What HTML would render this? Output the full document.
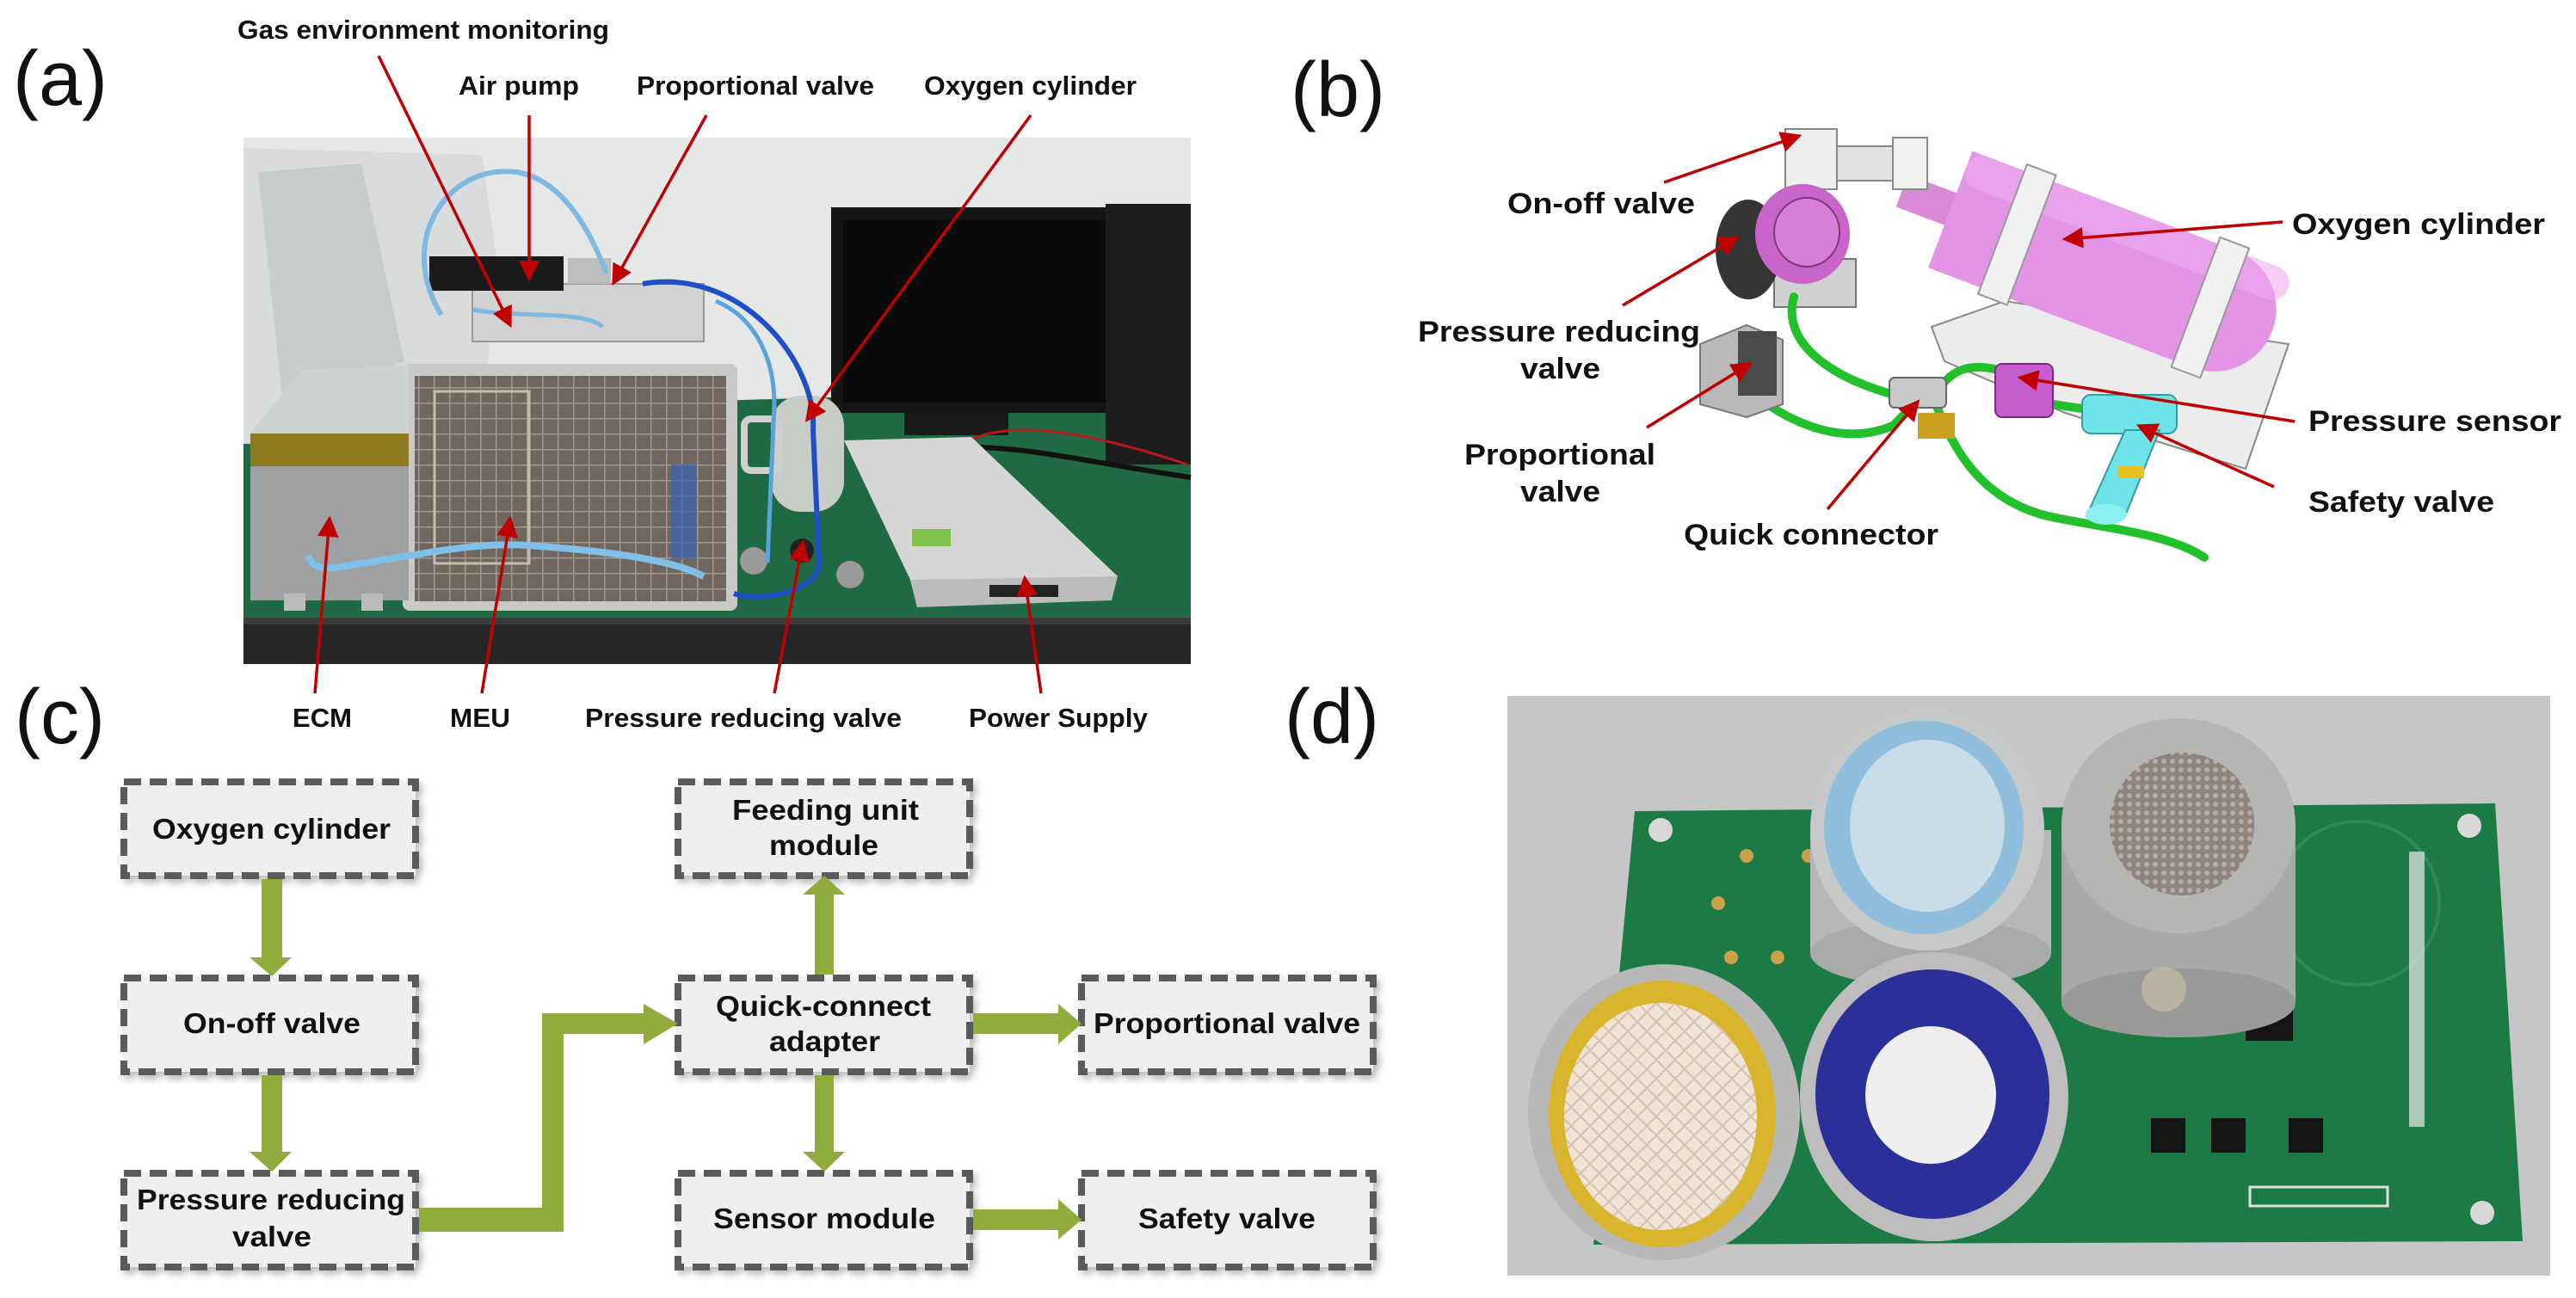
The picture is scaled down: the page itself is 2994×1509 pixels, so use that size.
<!DOCTYPE html>
<html><head><meta charset="utf-8"><style>
html,body{margin:0;padding:0;background:#fff;}
svg{display:block;}
.lb{font-family:"Liberation Sans",sans-serif;font-weight:bold;fill:#111;}
.pl{font-family:"Liberation Sans",sans-serif;font-size:90px;fill:#111;}
.bx{fill:#efefef;stroke:#5a5a5a;stroke-width:8;stroke-dasharray:20 10;}
.g{fill:#8fac3d;}
.ra{stroke:#c00000;stroke-width:3.5;fill:none;}
</style></head><body>
<svg width="2994" height="1509" viewBox="0 0 2994 1509" xmlns="http://www.w3.org/2000/svg">
<defs>
<marker id="ah" markerWidth="8" markerHeight="8" refX="6" refY="4" orient="auto" markerUnits="strokeWidth">
<path d="M0,0.5 L7,4 L0,7.5 Z" fill="#c00000"/></marker>
<filter id="sh" x="-10%" y="-10%" width="130%" height="130%"><feDropShadow dx="4" dy="5" stdDeviation="4" flood-color="#000" flood-opacity="0.25"/></filter>
<pattern id="grid" width="18" height="18" patternUnits="userSpaceOnUse"><path d="M0 0H18M0 0V18" stroke="#b9aea2" stroke-width="3" fill="none"/></pattern>
<pattern id="mesh" width="10" height="10" patternUnits="userSpaceOnUse"><rect width="10" height="10" fill="#8d847e"/><circle cx="5" cy="5" r="3" fill="#b5aca6"/></pattern>
<pattern id="ymesh" width="22" height="22" patternUnits="userSpaceOnUse"><rect width="22" height="22" fill="#efe3d6"/><path d="M0 11L11 0L22 11L11 22Z" stroke="#d4c2ad" stroke-width="2" fill="none"/></pattern>
</defs>

<!-- Panel labels -->
<text class="pl" x="15" y="122">(a)</text>
<text class="pl" x="1500" y="135">(b)</text>
<text class="pl" x="17" y="864">(c)</text>
<text class="pl" x="1493" y="864">(d)</text>

<!-- ================= Panel (a) photo ================= -->
<rect x="283" y="160" width="1101" height="612" fill="#e6e8e8"/>
<polygon points="283,508 700,470 1384,449 1384,720 283,720" fill="#1f6a45"/>
<rect x="283" y="718" width="1101" height="54" fill="#262626"/>
<rect x="283" y="718" width="1101" height="8" fill="#3c3c3c"/>
<!-- bag -->
<path d="M283,172 L560,180 L577,300 L560,516 L283,516 Z" fill="#d9dbdc"/>
<path d="M300,200 L420,190 L470,420 L330,480 Z" fill="#c9cccd"/>
<!-- monitor -->
<rect x="966" y="241" width="411" height="239" fill="#141414"/>
<rect x="980" y="256" width="385" height="212" fill="#0a0a0a"/>
<rect x="1051" y="480" width="121" height="26" fill="#1a1a1a"/>
<rect x="1285" y="237" width="99" height="303" fill="#1d1d1d"/>
<path d="M1130,510 C1180,490 1260,500 1380,540" stroke="#b51a1a" stroke-width="3" fill="none"/>
<path d="M1130,520 C1200,520 1280,540 1384,555" stroke="#111" stroke-width="6" fill="none"/>
<!-- cage -->
<rect x="468" y="423" width="389" height="287" rx="8" fill="#c9c9c7"/>
<rect x="482" y="437" width="362" height="262" fill="#6f675f"/>
<rect x="482" y="437" width="362" height="262" fill="url(#grid)" opacity="0.7"/>
<rect x="505" y="455" width="110" height="200" fill="none" stroke="#c8bcb0" stroke-width="3"/>
<rect x="780" y="540" width="30" height="110" fill="#3a61b8" opacity="0.7"/>
<!-- top module -->
<rect x="549" y="330" width="269" height="67" fill="#d2d2d2" stroke="#9a9a9a" stroke-width="2"/>
<rect x="499" y="298" width="156" height="40" fill="#1a1a1a"/>
<rect x="660" y="300" width="50" height="30" fill="#bdbdbd"/>
<!-- ECM -->
<polygon points="291,504 350,430 475,425 475,504" fill="#cfd2d3"/>
<rect x="291" y="504" width="184" height="194" fill="#9ea0a1"/>
<rect x="291" y="504" width="184" height="38" fill="#8d7a1e"/>
<rect x="330" y="690" width="25" height="20" fill="#bbb"/><rect x="420" y="690" width="25" height="20" fill="#bbb"/>
<!-- cylinder -->
<rect x="896" y="460" width="85" height="135" rx="35" fill="#c8ccc6"/>
<rect x="865" y="487" width="40" height="60" rx="8" fill="none" stroke="#cfcfcf" stroke-width="8"/>
<circle cx="932" cy="640" r="14" fill="#222"/>
<circle cx="876" cy="652" r="16" fill="#9a9a9a"/><circle cx="988" cy="668" r="16" fill="#9a9a9a"/>
<!-- power supply -->
<polygon points="981,512 1129,508 1299,670 1066,706 1058,674" fill="#d6d6d6"/>
<polygon points="1058,674 1299,670 1292,698 1066,706" fill="#bcbcbc"/>
<rect x="1150" y="680" width="80" height="14" fill="#222"/>
<rect x="1060" y="615" width="45" height="20" fill="#7fc24a"/>
<!-- tubes -->
<path d="M513,366 C460,280 520,190 600,200 C660,210 690,280 705,318" stroke="#7fb8e0" stroke-width="6" fill="none"/>
<path d="M550,360 C600,370 680,360 700,380" stroke="#7fb8e0" stroke-width="5" fill="none"/>
<path d="M358,646 C365,665 380,662 420,655 C500,642 560,630 613,634 C700,640 780,650 818,670" stroke="#80c0e8" stroke-width="8" fill="none"/>
<path d="M747,330 C860,310 950,420 945,500 L952,654 C950,690 880,700 853,690" stroke="#1f4fc4" stroke-width="6" fill="none"/>
<path d="M832,350 C880,370 900,420 900,470 L892,654" stroke="#5aa4dc" stroke-width="5" fill="none"/>

<!-- (a) labels -->
<text class="lb" x="276" y="45" font-size="31" textLength="432" lengthAdjust="spacingAndGlyphs">Gas environment monitoring</text>
<text class="lb" x="533" y="110" font-size="31" textLength="140" lengthAdjust="spacingAndGlyphs">Air pump</text>
<text class="lb" x="740" y="110" font-size="31" textLength="276" lengthAdjust="spacingAndGlyphs">Proportional valve</text>
<text class="lb" x="1074" y="110" font-size="31" textLength="247" lengthAdjust="spacingAndGlyphs">Oxygen cylinder</text>
<text class="lb" x="340" y="845" font-size="31" textLength="69" lengthAdjust="spacingAndGlyphs">ECM</text>
<text class="lb" x="523" y="845" font-size="31" textLength="70" lengthAdjust="spacingAndGlyphs">MEU</text>
<text class="lb" x="680" y="845" font-size="31" textLength="368" lengthAdjust="spacingAndGlyphs">Pressure reducing valve</text>
<text class="lb" x="1126" y="845" font-size="31" textLength="208" lengthAdjust="spacingAndGlyphs">Power Supply</text>
<!-- (a) arrows -->
<line class="ra" x1="440" y1="65" x2="593" y2="378" marker-end="url(#ah)"/>
<line class="ra" x1="615" y1="134" x2="615" y2="324" marker-end="url(#ah)"/>
<line class="ra" x1="821" y1="134" x2="713" y2="329" marker-end="url(#ah)"/>
<line class="ra" x1="1198" y1="134" x2="938" y2="488" marker-end="url(#ah)"/>
<line class="ra" x1="366" y1="806" x2="383" y2="603" marker-end="url(#ah)"/>
<line class="ra" x1="560" y1="806" x2="593" y2="603" marker-end="url(#ah)"/>
<line class="ra" x1="900" y1="806" x2="933" y2="631" marker-end="url(#ah)"/>
<line class="ra" x1="1210" y1="806" x2="1191" y2="672" marker-end="url(#ah)"/>

<!-- ================= Panel (b) ================= -->
<polygon points="2245,380 2330,350 2660,400 2610,545 2400,480 2260,420" fill="#ececec" stroke="#8a8a8a" stroke-width="2"/>
<!-- cylinder -->
<g transform="rotate(20.7 2450 310)">
<rect x="2195" y="292" width="80" height="40" fill="#d88ad8"/>
<rect x="2255" y="240" width="400" height="145" rx="72" fill="#e394e6"/>
<rect x="2255" y="240" width="330" height="145" fill="#e394e6"/>
<rect x="2255" y="240" width="400" height="40" rx="20" fill="#eeaaf0" opacity="0.6"/>
<rect x="2320" y="232" width="36" height="161" fill="#f1f1f1" stroke="#999" stroke-width="2"/>
<rect x="2560" y="232" width="36" height="161" fill="#f1f1f1" stroke="#999" stroke-width="2"/>
</g>
<!-- on-off valve -->
<rect x="2075" y="150" width="60" height="70" fill="#eeeeee" stroke="#888" stroke-width="2"/>
<rect x="2135" y="170" width="80" height="40" fill="#e2e2e2" stroke="#888" stroke-width="2"/>
<rect x="2200" y="160" width="40" height="60" fill="#f0f0f0" stroke="#888" stroke-width="2"/>
<!-- pressure reducing valve -->
<rect x="2062" y="301" width="95" height="56" fill="#d0d0d0" stroke="#777" stroke-width="2"/>
<ellipse cx="2032" cy="290" rx="38" ry="58" fill="#353535"/>
<ellipse cx="2095" cy="272" rx="55" ry="58" fill="#c964cb"/>
<ellipse cx="2100" cy="270" rx="38" ry="40" fill="#d67ed8" stroke="#7a3a7a" stroke-width="2"/>
<!-- green tubes -->
<g stroke="#22c12c" stroke-width="10" fill="none" stroke-linecap="round">
<path d="M2085,345 C2070,400 2130,440 2205,460"/>
<path d="M2040,460 C2080,490 2140,520 2200,495 L2225,470"/>
<path d="M2255,450 C2270,430 2290,420 2330,432"/>
<path d="M2250,470 C2270,520 2300,580 2380,600 C2450,615 2520,620 2562,648"/>
<path d="M2386,470 L2420,475"/>
</g>
<!-- proportional valve -->
<polygon points="1976,400 2030,378 2072,395 2072,470 2030,485 1976,470" fill="#b9b9b9" stroke="#777" stroke-width="2"/>
<rect x="2020" y="385" width="45" height="75" fill="#4a4a4a"/>
<!-- quick connector -->
<rect x="2196" y="439" width="66" height="35" rx="6" fill="#c8c8c8" stroke="#666" stroke-width="2"/>
<rect x="2229" y="480" width="43" height="30" fill="#c9a020"/>
<!-- pressure sensor -->
<rect x="2319" y="423" width="67" height="62" rx="8" fill="#c75ed0" stroke="#7a2a80" stroke-width="2"/>
<!-- safety valve -->
<rect x="2420" y="459" width="110" height="45" rx="10" fill="#6ee4e8" stroke="#3a9aa0" stroke-width="2"/>
<polygon points="2470,500 2510,500 2470,600 2425,600" fill="#6ee4e8" stroke="#3a9aa0" stroke-width="2"/>
<ellipse cx="2448" cy="598" rx="24" ry="12" fill="#8ef0f2"/>
<rect x="2462" y="542" width="30" height="14" fill="#e8c020"/>
<!-- (b) labels -->
<text class="lb" x="1752" y="248" font-size="34" textLength="218" lengthAdjust="spacingAndGlyphs">On-off valve</text>
<text class="lb" x="1648" y="397" font-size="34" textLength="328" lengthAdjust="spacingAndGlyphs">Pressure reducing</text>
<text class="lb" x="1767" y="440" font-size="34" textLength="93" lengthAdjust="spacingAndGlyphs">valve</text>
<text class="lb" x="1702" y="540" font-size="34" textLength="222" lengthAdjust="spacingAndGlyphs">Proportional</text>
<text class="lb" x="1767" y="583" font-size="34" textLength="93" lengthAdjust="spacingAndGlyphs">valve</text>
<text class="lb" x="1957" y="633" font-size="34" textLength="296" lengthAdjust="spacingAndGlyphs">Quick connector</text>
<text class="lb" x="2664" y="272" font-size="34" textLength="294" lengthAdjust="spacingAndGlyphs">Oxygen cylinder</text>
<text class="lb" x="2683" y="501" font-size="34" textLength="294" lengthAdjust="spacingAndGlyphs">Pressure sensor</text>
<text class="lb" x="2683" y="595" font-size="34" textLength="216" lengthAdjust="spacingAndGlyphs">Safety valve</text>
<line class="ra" x1="1934" y1="212" x2="2091" y2="158" marker-end="url(#ah)"/>
<line class="ra" x1="1886" y1="355" x2="2019" y2="276" marker-end="url(#ah)"/>
<line class="ra" x1="1914" y1="497" x2="2034" y2="423" marker-end="url(#ah)"/>
<line class="ra" x1="2124" y1="592" x2="2229" y2="467" marker-end="url(#ah)"/>
<line class="ra" x1="2653" y1="258" x2="2400" y2="278" marker-end="url(#ah)"/>
<line class="ra" x1="2667" y1="490" x2="2348" y2="439" marker-end="url(#ah)"/>
<line class="ra" x1="2643" y1="566" x2="2486" y2="495" marker-end="url(#ah)"/>

<!-- ================= Panel (c) flowchart ================= -->
<g filter="url(#sh)">
<rect class="bx" x="144" y="909" width="339" height="109"/>
<rect class="bx" x="144" y="1137" width="339" height="109"/>
<rect class="bx" x="144" y="1364" width="339" height="109"/>
<rect class="bx" x="788" y="909" width="339" height="109"/>
<rect class="bx" x="788" y="1137" width="339" height="109"/>
<rect class="bx" x="788" y="1364" width="339" height="109"/>
<rect class="bx" x="1257" y="1137" width="339" height="109"/>
<rect class="bx" x="1257" y="1364" width="339" height="109"/>
</g>
<g class="g">
<rect x="304" y="1022" width="24" height="91"/><polygon points="290,1113 339,1113 316,1135"/>
<rect x="304" y="1250" width="24" height="89"/><polygon points="290,1339 339,1339 316,1362"/>
<rect x="947" y="1040" width="22" height="93"/><polygon points="933,1040 982,1040 958,1018"/>
<rect x="947" y="1250" width="22" height="89"/><polygon points="933,1339 982,1339 958,1362"/>
<rect x="1131" y="1178" width="99" height="24"/><polygon points="1230,1167 1230,1214 1257,1190"/>
<rect x="1131" y="1406" width="99" height="24"/><polygon points="1230,1394 1230,1441 1257,1418"/>
<polygon points="487,1404 630,1404 630,1178 748,1178 748,1167 788,1190 748,1214 748,1202 655,1202 655,1432 487,1432"/>
</g>
<g class="lb" font-size="33">
<text x="177" y="975" textLength="277" lengthAdjust="spacingAndGlyphs">Oxygen cylinder</text>
<text x="213" y="1201" textLength="206" lengthAdjust="spacingAndGlyphs">On-off valve</text>
<text x="159" y="1406" textLength="312" lengthAdjust="spacingAndGlyphs">Pressure reducing</text>
<text x="270" y="1449" textLength="92" lengthAdjust="spacingAndGlyphs">valve</text>
<text x="851" y="953" textLength="217" lengthAdjust="spacingAndGlyphs">Feeding unit</text>
<text x="894" y="994" textLength="127" lengthAdjust="spacingAndGlyphs">module</text>
<text x="832" y="1181" textLength="250" lengthAdjust="spacingAndGlyphs">Quick-connect</text>
<text x="894" y="1222" textLength="129" lengthAdjust="spacingAndGlyphs">adapter</text>
<text x="1271" y="1201" textLength="310" lengthAdjust="spacingAndGlyphs">Proportional valve</text>
<text x="829" y="1428" textLength="258" lengthAdjust="spacingAndGlyphs">Sensor module</text>
<text x="1323" y="1428" textLength="206" lengthAdjust="spacingAndGlyphs">Safety valve</text>
</g>

<!-- ================= Panel (d) photo ================= -->
<rect x="1752" y="809" width="1212" height="674" fill="#c6c6c6"/>
<polygon points="1900,943 2900,934 2932,1443 1852,1447" fill="#1c7a45"/>
<circle cx="1930" cy="965" r="14" fill="#d8d8d8"/><circle cx="2870" cy="960" r="14" fill="#d8d8d8"/><circle cx="2885" cy="1410" r="14" fill="#d8d8d8"/>
<circle cx="2740" cy="1050" r="95" fill="none" stroke="#2e8a55" stroke-width="4"/>
<rect x="2800" y="990" width="18" height="320" fill="#e8e8e8" opacity="0.7"/>
<rect x="2610" y="1155" width="55" height="55" fill="#151515"/>
<rect x="2500" y="1300" width="40" height="40" fill="#151515"/><rect x="2570" y="1300" width="40" height="40" fill="#151515"/><rect x="2660" y="1300" width="40" height="40" fill="#151515"/>
<rect x="2615" y="1380" width="160" height="22" fill="none" stroke="#e0e0e0" stroke-width="3"/>
<circle cx="2030" cy="995" r="8" fill="#c9a24a"/><circle cx="2102" cy="995" r="8" fill="#c9a24a"/><circle cx="1997" cy="1050" r="8" fill="#c9a24a"/><circle cx="2012" cy="1113" r="8" fill="#c9a24a"/><circle cx="2066" cy="1113" r="8" fill="#c9a24a"/>
<!-- metal sensor -->
<rect x="2396" y="960" width="272" height="206" fill="#a9a9a7"/>
<ellipse cx="2532" cy="1166" rx="136" ry="40" fill="#9a9a98"/>
<ellipse cx="2532" cy="960" rx="136" ry="125" fill="#b5b5b3"/>
<ellipse cx="2536" cy="958" rx="84" ry="83" fill="url(#mesh)"/>
<circle cx="2515" cy="1150" r="26" fill="#b9b3a2"/>
<!-- light blue sensor -->
<rect x="2104" y="965" width="280" height="143" fill="#b6b8b8"/>
<ellipse cx="2244" cy="1108" rx="140" ry="40" fill="#a9abab"/>
<ellipse cx="2240" cy="965" rx="136" ry="140" fill="#c7c9c9"/>
<ellipse cx="2236" cy="962" rx="116" ry="124" fill="#8fbfdc"/>
<ellipse cx="2240" cy="960" rx="90" ry="100" fill="#c9dde9"/>
<!-- yellow sensor -->
<ellipse cx="1934" cy="1293" rx="158" ry="172" fill="#b8b8b8"/>
<ellipse cx="1932" cy="1295" rx="132" ry="155" fill="#d9b52e"/>
<ellipse cx="1930" cy="1298" rx="112" ry="132" fill="url(#ymesh)"/>
<!-- blue sensor -->
<ellipse cx="2248" cy="1275" rx="156" ry="168" fill="#bdbdbd"/>
<ellipse cx="2246" cy="1272" rx="136" ry="145" fill="#2a2f9a"/>
<ellipse cx="2244" cy="1273" rx="76" ry="80" fill="#efefef"/>
</svg>
</body></html>
